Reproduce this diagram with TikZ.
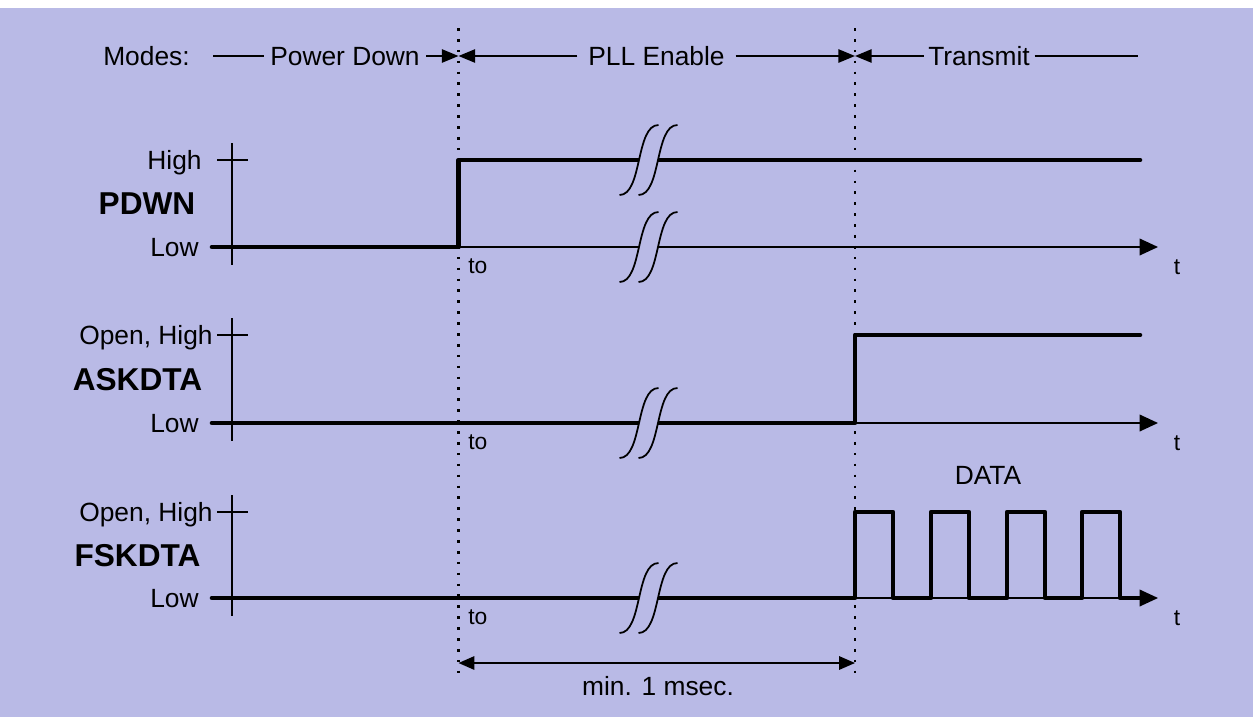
\documentclass[tikz,border=0pt]{standalone}
\usepackage{fontspec}
\setmainfont{Liberation Sans}
\usetikzlibrary{arrows.meta}
\definecolor{panel}{RGB}{185,186,230}

\begin{document}
\begin{tikzpicture}[x=0.02cm, y=-0.02cm,
  txt/.style = {font=\fontsize{15}{18}\selectfont, inner sep=0pt, text height=10.7pt, text depth=0pt},
  sname/.style = {font=\fontsize{18}{21}\selectfont\bfseries, inner sep=0pt, text height=12.9pt, text depth=0pt},
  tlbl/.style = {font=\fontsize{13}{15}\selectfont, inner sep=0pt, text height=9.3pt, text depth=0pt},
  thin/.style = {line width=0.95pt},
  axis/.style = {line width=1.2pt},
  sig/.style = {line width=2.6pt, line cap=round, line join=round},
  tip/.style = {thin, -{Triangle[length=10.5pt, width=9.5pt]}},
  modearr/.style = {thin, -{Triangle[length=9.5pt, width=7.6pt]}},
  guide/.style = {line width=1.4pt, dash pattern=on 1.5pt off 4.7pt},
  brk/.pic = {
    \fill[panel] (-19.5,35) .. controls +(23,0) and +(-23,0) .. (19.5,-35) -- (38.5,-35) .. controls +(-23,0) and +(23,0) .. (-0.5,35) -- cycle;
    \draw[line width=1pt] (-19.5,35) .. controls +(23,0) and +(-23,0) .. (19.5,-35);
    \draw[line width=1pt] (-0.5,35) .. controls +(23,0) and +(-23,0) .. (38.5,-35);
  }
]
  \useasboundingbox (0,0) rectangle (1258,717);
  \fill[panel] (0,8) rectangle (1253,717);

  % time marks
  \coordinate (t0) at (458.5,28);
  \coordinate (t1) at (855,28);
  \coordinate (t0b) at (458.5,680);
  \coordinate (t1b) at (855,680);

  % modes
  \node[txt] (modes) at (146.5,56) {Modes:};
  \coordinate (m0) at (213,56);
  \node[txt, inner xsep=3.5pt] (pdn) at (345,56) {Power Down};
  \node[txt, inner xsep=6pt] (pll) at (656.5,56) {PLL Enable};
  \node[txt, inner xsep=2.5pt] (tx) at (979,56) {Transmit};
  \coordinate (m1) at (1138,56);
  \draw[thin] (m0) -- (pdn);
  \draw[modearr] (pdn) -- (t0 |- pdn);
  \draw[modearr] (pll) -- (t0 |- pll);
  \draw[modearr] (pll) -- (t1 |- pll);
  \draw[modearr] (tx) -- (t1 |- tx);
  \draw[thin] (tx) -- (m1);

  % three signals, axis and labels
  \foreach \nm/\lbl/\hi/\lo/\hx/\htxt/\cx in {
    pd/PDWN/160/247/202/High/147,
    ask/ASKDTA/335/423/213/{Open, High}/137.5,
    fsk/FSKDTA/512/598/213/{Open, High}/137.5
  }{
    \draw[axis] (232,\hi-17) -- (232,\lo+18);
    \draw[axis] (217,\hi) -- (248,\hi);
    \node[txt, anchor=east] (\nm-hi) at (\hx,\hi) {\htxt};
    \node[txt, anchor=east] (\nm-lo) at (199,\lo) {Low};
    \node[sname] (\nm-name) at (\cx,{(\hi+\lo)/2}) {\lbl};
    \coordinate (\nm-start) at (212,\lo);
    \coordinate (\nm-end) at (1158,\lo);
    \coordinate (\nm-top) at (1140,\hi);
    \draw[tip] (\nm-start) -- (\nm-end);
    \node[tlbl] (\nm-t) at (1177,\lo+19) {t};
    \node[tlbl, anchor=west] (\nm-to) at (468,\lo+18) {to};
  }

  % waveforms
  \draw[sig] (pd-start) -- (t0 |- pd-start) -- (t0 |- pd-top) -- (pd-top);
  \draw[sig] (ask-start) -- (t1 |- ask-start) -- (t1 |- ask-top) -- (ask-top);
  \draw[sig] (fsk-start) \foreach \x in {855,931,1007,1082}{ -- (\x,598) -- (\x,512) -- (\x+38,512) -- (\x+38,598)} -- (1140,598);
  \node[txt] (data) at (988,475) {DATA};

  % breaks
  \foreach \y in {160,247,423,598}
    \pic at (639,\y) {brk};

  % dotted guides
  \draw[guide] (t0) -- (t0b);
  \draw[guide] (t1) -- (t1b);

  % min. duration
  \coordinate (d0) at (458.5,663);
  \coordinate (d1) at (855,663);
  \draw[thin, {Triangle[length=9pt, width=7.6pt]}-{Triangle[length=9pt, width=7.6pt]}] (d0) -- (d1);
  \node[txt] (dim) at (658,686) {min. 1 msec.};
\end{tikzpicture}
\end{document}
